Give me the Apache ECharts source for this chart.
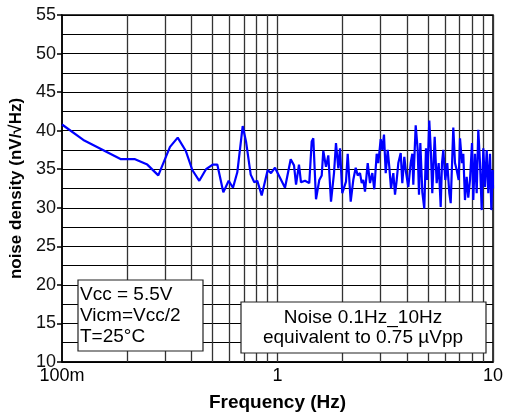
<!DOCTYPE html>
<html>
<head>
<meta charset="utf-8">
<script src="https://cdn.jsdelivr.net/npm/echarts@6/dist/echarts.min.js"></script>
<style>html,body{margin:0;padding:0;background:#fff}#c{width:506px;height:417px}</style>
</head>
<body>
<div id="c"></div>
<script>
const freq = [0.1,0.1256,0.1878,0.2182,0.2488,0.2798,0.3171,0.3443,0.375,0.4024,0.4336,0.4658,0.5006,0.5256,0.5605,0.5935,0.6214,0.6508,0.6894,0.7143,0.751,0.7805,0.8058,0.8446,0.9005,0.9329,0.9736,0.9915,1.0835,1.1515,1.193,1.219,1.258,1.285,1.342,1.404,1.441,1.466,1.509,1.563,1.604,1.631,1.679,1.721,1.771,1.829,1.868,1.915,1.95,1.998,2.079,2.117,2.186,2.247,2.306,2.356,2.415,2.459,2.501,2.547,2.622,2.687,2.754,2.813,2.886,2.936,3.012,3.064,3.12,3.178,3.246,3.302,3.363,3.447,3.51,3.574,3.636,3.73,3.794,3.876,3.948,4.046,4.151,4.222,4.268,4.378,4.473,4.535,4.6,4.7,4.799,4.887,4.955,5.062,5.155,5.227,5.363,5.478,5.597,5.718,5.798,5.88,6.007,6.136,6.27,6.364,6.543,6.663,6.785,6.931,7.029,7.18,7.281,7.413,7.549,7.679,7.82,7.99,8.101,8.25,8.401,8.546,8.703,8.863,9.016,9.182,9.35,9.511,9.685,9.82,9.968,10];
const noise = [40.8,38.8,36.3,36.3,35.6,34.2,37.9,39.1,37.4,34.9,33.5,35.0,35.6,35.6,32.0,33.5,32.6,34.6,40.6,38.6,34.3,33.3,33.5,31.6,34.9,34.5,35.2,35.3,32.6,36.3,35.5,33.0,35.6,33.3,33.5,33.2,38.6,39.0,31.1,33.6,34.2,37.4,35.3,36.8,30.8,34.5,38.4,35.1,37.7,31.9,33.4,37.0,30.8,33.6,35.2,34.2,34.5,33.2,33.6,32.1,35.8,33.2,34.5,32.4,37.0,35.8,38.9,37.5,39.5,34.5,37.5,35.3,32.5,34.5,31.7,33.6,35.8,37.1,33.2,36.6,34.6,32.7,35.8,37.0,33.0,40.7,37.5,31.7,38.4,32.0,29.9,37.7,33.6,41.3,37.0,31.9,39.2,33.2,35.8,30.1,35.8,37.5,33.6,35.8,31.9,30.6,40.4,35.8,34.9,33.6,39.0,35.8,37.0,31.0,34.0,31.3,33.6,38.4,31.0,37.0,31.9,40.1,35.8,29.7,37.7,32.7,37.5,31.9,37.0,29.7,34.9,32.5];
const minorX = [0.2,0.3,0.4,0.5,0.6,0.7,0.8,0.9,1,2,3,4,5,6,7,8,9,10];
const xTickLabels = {'0.1':'100m','1':'1','10':'10'};
const boxLines1 = ['Vcc = 5.5V','Vicm=Vcc/2','T=25°C'];
const boxLines2 = ['Noise 0.1Hz_10Hz','equivalent to 0.75 µVpp'];

const chart = echarts.init(document.getElementById('c'));
const font = 'Liberation Sans, Arial, sans-serif';
chart.setOption({
  animation:false,
  grid:{left:62,right:13,top:15,bottom:55,containLabel:false,outerBoundsMode:'none',show:true,borderColor:'#000',borderWidth:1.5,backgroundColor:'#fff'},
  xAxis:{type:'log',logBase:10,min:0.1,max:10,
    name:'Frequency (Hz)',nameLocation:'middle',nameGap:31,
    nameTextStyle:{fontFamily:font,fontSize:19,fontWeight:'bold',color:'#000'},
    axisLine:{lineStyle:{color:'#000',width:1.5}},
    axisTick:{show:false},
    splitLine:{show:false},
    axisLabel:{fontFamily:font,fontSize:18,color:'#000',margin:5,
      formatter:v=>{const k=String(+v.toPrecision(3));return xTickLabels[k]!==undefined?xTickLabels[k]:'';}}
  },
  yAxis:{type:'value',min:10,max:55,interval:5,
    name:'noise density (nV/√Hz)',nameLocation:'middle',nameGap:36,
    nameTextStyle:{fontFamily:font,fontSize:17,fontWeight:'bold',color:'#000'},
    axisLine:{lineStyle:{color:'#000',width:1.5}},
    axisTick:{show:true,inside:false,length:5,lineStyle:{color:'#000',width:1.5}},
    axisLabel:{fontFamily:font,fontSize:18,color:'#111',margin:6},
    splitLine:{show:true,lineStyle:{color:'#000',width:1.2}},
    minorTick:{show:false,splitNumber:2},
    minorSplitLine:{show:true,lineStyle:{color:'#000',width:1.2}}
  },
  series:[{
    type:'line',
    data:freq.map((f,i)=>[f,noise[i]]),
    symbol:'none',
    lineStyle:{color:'#0000ff',width:2.2},
    z:3,
    markLine:{silent:true,symbol:'none',label:{show:false},animation:false,
      lineStyle:{color:'#333',width:1.3,type:'solid'},
      data:minorX.map(v=>({xAxis:v})),
      z:1}
  }],
  graphic:[
    {type:'rect',shape:{x:78,y:280,width:125,height:71},style:{fill:'#fff',stroke:'#222',lineWidth:1.2},z:10},
    {type:'text',x:80,y:284.5,style:{text:boxLines1.join('\n'),font:'19px '+font,fill:'#000',lineHeight:21,verticalAlign:'top'},z:11},
    {type:'rect',shape:{x:241,y:302,width:245,height:51},style:{fill:'#fff',stroke:'#222',lineWidth:1.2},z:10},
    {type:'text',x:363,y:308,style:{text:boxLines2.join('\n'),font:'19px '+font,fill:'#000',align:'center',lineHeight:20,verticalAlign:'top'},z:11}
  ]
});
</script>
</body>
</html>
